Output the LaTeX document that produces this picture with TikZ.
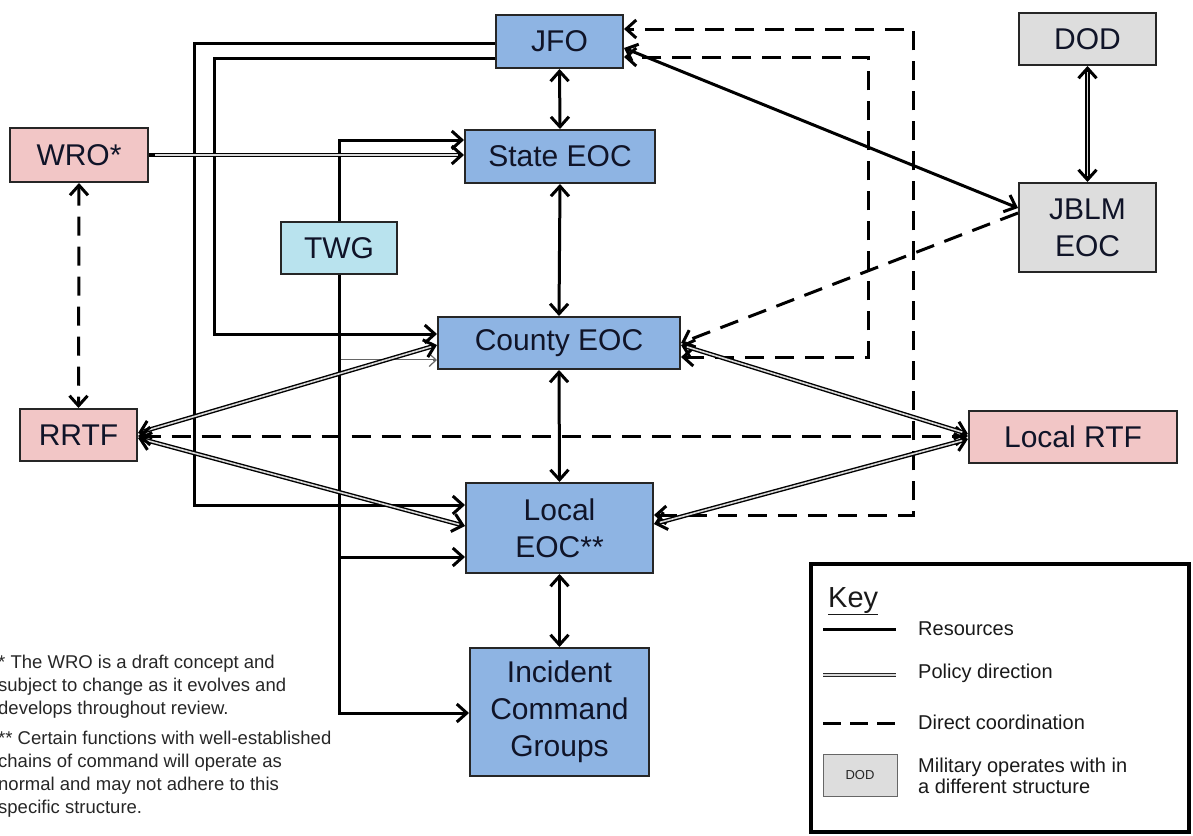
\documentclass[tikz,border=0pt]{standalone}
\usepackage{fontspec}
\setmainfont{Liberation Sans}
\usetikzlibrary{arrows.meta}
\definecolor{boxblue}{HTML}{8EB4E3}
\definecolor{boxpink}{HTML}{F2C6C6}
\definecolor{boxcyan}{HTML}{B9E3EE}
\definecolor{boxgrey}{HTML}{DDDDDD}
\definecolor{boxtext}{HTML}{101428}
\begin{document}
\begin{tikzpicture}[x=1pt,y=-1pt,
  >={Straight Barb[length=10pt,width=18pt,line width=3pt]},
  box/.style={draw=black!85, line width=2pt, text=boxtext, font=\fontsize{30}{37}\selectfont, align=center, inner sep=0pt},
  bluebox/.style={box, fill=boxblue},
  pinkbox/.style={box, fill=boxpink},
  cyanbox/.style={box, fill=boxcyan},
  greybox/.style={box, fill=boxgrey},
  resln/.style={line width=3pt, draw=black},
  dashln/.style={line width=3pt, draw=black, dash pattern=on 19pt off 11pt},
  polln/.style={line width=4.4pt, draw=black, postaction={draw=gray!30, line width=1.6pt, -, shorten <=6pt, shorten >=6pt}},
  polthin/.style={line width=2.2pt, draw=black!60, postaction={draw=white, line width=0.8pt, -, shorten <=3pt, shorten >=4pt}},
  keytxt/.style={anchor=base west, inner sep=0pt, font=\fontsize{20}{24}\selectfont, text=black!90},
  foot/.style={anchor=north west, inner sep=0pt, align=left, font=\fontsize{18.5}{23}\selectfont, text=black!85}
]
\useasboundingbox (0,0) rectangle (1193,835);

% nodes
\node[bluebox, minimum width=127pt, minimum height=53pt] (jfo) at (559.5,41.5) {JFO};
\node[bluebox, minimum width=190pt, minimum height=53pt] (state) at (560,156.5) {State EOC};
\node[bluebox, minimum width=242pt, minimum height=52pt] (county) at (559,343) {County EOC};
\node[bluebox, minimum width=187pt, minimum height=90pt] (local) at (559.5,528) {Local\\EOC**};
\node[bluebox, minimum width=179pt, minimum height=128pt] (icg) at (559.5,712) {Incident\\Command\\Groups};
\node[pinkbox, minimum width=138pt, minimum height=54pt] (wro) at (79,155) {WRO*};
\node[cyanbox, minimum width=116pt, minimum height=52pt] (twg) at (339,248) {TWG};
\node[pinkbox, minimum width=117pt, minimum height=52pt] (rrtf) at (78.5,435) {RRTF};
\node[pinkbox, minimum width=208pt, minimum height=52pt] (lrtf) at (1073,437) {Local RTF};
\node[greybox, minimum width=137pt, minimum height=52pt] (dod) at (1087.5,39) {DOD};
\node[greybox, minimum width=137pt, minimum height=89pt] (jblm) at (1087.5,227.5) {JBLM\\EOC};

% corner coordinates
\coordinate (d1) at (913,29);
\coordinate (d2) at (868,57);
\coordinate (r1) at (194,43);
\coordinate (r2) at (214,58);

% vertical chain
\draw[resln, <->] (jfo.south) -- (state.north);
\draw[resln, <->] (state.south) -- (county.north);
\draw[resln, <->] (county.south) -- (local.north);
\draw[resln, <->] (local.south) -- (icg.north);
\draw[polln, <->] (dod.south) -- (jblm.north);

% JFO - JBLM
\draw[resln, <->] (jfo.east |- 0,48) -- (jblm.west |- 0,208);
\draw[dashln, ->] (jblm.west |- 0,213) -- (county.east |- 0,343);

% dashed loops to JFO
\draw[dashln, <->] (local.east |- 0,515) -| (d1) -- (jfo.east |- 0,29);
\draw[dashln, <->] (county.east |- 0,357) -| (d2) -- (jfo.east |- 0,57);

% resources from JFO
\draw[resln, ->] (jfo.west |- 0,43) -- (r1) |- (local.west |- 0,505);
\draw[resln, ->] (jfo.west |- 0,58) -- (r2) |- (county.west |- 0,334);

% TWG
\draw[resln, ->] (twg.north) |- (state.west |- 0,140);
\draw[polthin, -{Straight Barb[length=7pt,width=13pt,line width=1.2pt]}] (twg.south) |- (county.west |- 0,360);
\draw[resln, ->] (twg.south) |- (local.west |- 0,557);
\draw[resln, ->] (twg.south) |- (icg.west |- 0,713);

% WRO / RRTF
\draw[polln, ->] (wro.east) -- (state.west |- 0,155);
\draw[dashln, <->] (wro.south) -- (rrtf.north);
\draw[polln, <->] (rrtf.east |- 0,433) -- (county.west |- 0,345);
\draw[polln, <->] (rrtf.east |- 0,438) -- (local.west |- 0,526);
\draw[dashln, <->] (rrtf.east |- 0,436) -- (lrtf.west |- 0,436);

% Local RTF
\draw[polln, <->] (county.east |- 0,345) -- (lrtf.west |- 0,434);
\draw[polln, <->] (local.east |- 0,524) -- (lrtf.west |- 0,439);

% key
\node[draw=black, line width=3.5pt, minimum width=378pt, minimum height=268pt, inner sep=0pt] (key) at (1000,698) {};
\node[anchor=base west, inner sep=0pt, font=\fontsize{29}{32}\selectfont, text=black!90] (keyt) at (828,607) {\underline{Key}};
\coordinate (k1a) at (823,629); \coordinate (k1b) at (896,629);
\coordinate (k2a) at (823,675); \coordinate (k2b) at (896,675);
\coordinate (k3a) at (823,723); \coordinate (k3b) at (896,723);
\draw[resln] (k1a) -- (k1b);
\draw[line width=4.4pt, draw=black!85] (k2a) -- (k2b);
\draw[line width=1.6pt, draw=gray!30] (k2a) -- (k2b);
\draw[line width=3pt, dash pattern=on 18pt off 9pt] (k3a) -- (k3b);
\node[keytxt] (k1t) at (918,635) {Resources};
\node[keytxt] (k2t) at (918,678) {Policy direction};
\node[keytxt] (k3t) at (918,729) {Direct coordination};
\node[draw=black!60, fill=boxgrey, line width=1pt, minimum width=74pt, minimum height=42pt, inner sep=0pt, font=\fontsize{13}{14}\selectfont, text=black!85] (kdod) at (860,775) {DOD};
\node[keytxt] (k4t) at (918,772) {Military operates with in};
\node[keytxt] (k5t) at (918,793) {a different structure};

% footnotes
\node[foot] (f1) at (-2,654.5) {* The WRO is a draft concept and\\subject to change as it evolves and\\develops throughout review.};
\node[foot] (f2) at (-2,730.5) {** Certain functions with well-established\\chains of command will operate as\\normal and may not adhere to this\\specific structure.};
\end{tikzpicture}
\end{document}
